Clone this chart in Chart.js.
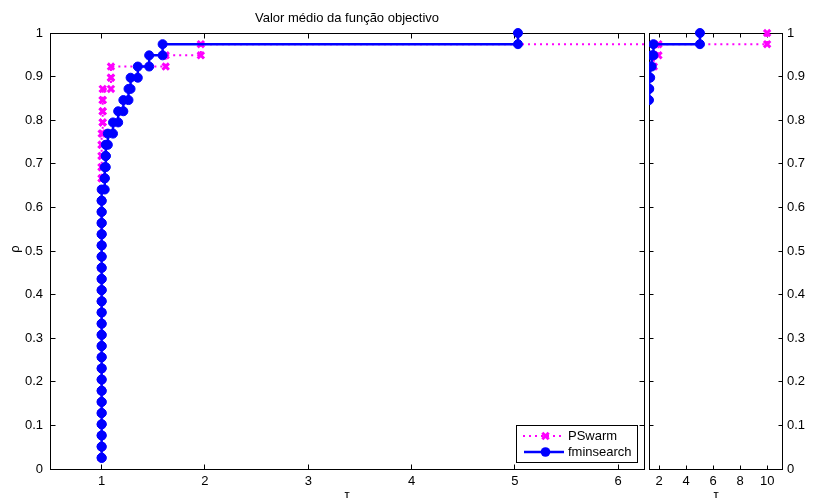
<!DOCTYPE html>
<html>
<head>
<meta charset="utf-8">
<script src="https://cdn.jsdelivr.net/npm/chart.js@4/dist/chart.umd.min.js"></script>
<style>
  body { margin: 0; background: #fff; }
  #wrap { position: relative; width: 821px; height: 498px; overflow: hidden; }
  #left { position: absolute; left: 0; top: 0; }
  #right { position: absolute; left: 646px; top: 0; }
</style>
</head>
<body>
<div id="wrap">
  <canvas id="left" width="646" height="498"></canvas>
  <canvas id="right" width="175" height="498"></canvas>
</div>
<script>
var chartTitle = 'Valor médio da função objectivo';
var solverNames = ['PSwarm', 'fminsearch'];

// sorted performance ratios, one per problem (39 problems)
var pswarmRatios = [1, 1, 1, 1, 1, 1, 1, 1, 1, 1,
                    1, 1, 1, 1, 1, 1, 1, 1, 1, 1,
                    1, 1, 1, 1, 1, 1, 1, 1, 1, 1,
                    1.01, 1.01, 1.01, 1.01, 1.09, 1.09, 1.62, 1.96, 10.0];
var fminRatios = [1, 1, 1, 1, 1, 1, 1, 1, 1, 1,
                  1, 1, 1, 1, 1, 1, 1, 1, 1, 1,
                  1, 1, 1, 1, 1, 1.03, 1.03, 1.04, 1.04, 1.06,
                  1.11, 1.16, 1.21, 1.26, 1.28, 1.35, 1.46, 1.59, 5.03];

var leftXTicks = [1, 2, 3, 4, 5, 6];
var rightXTicks = [2, 4, 6, 8, 10];
var yTicks = [0, 0.1, 0.2, 0.3, 0.4, 0.5, 0.6, 0.7, 0.8, 0.9, 1];

var FONT = '"Liberation Sans", Arial, Helvetica, sans-serif';
var MAGENTA = '#ff00ff';
var BLUE = '#0000ff';

// matlab style stairs: a marker on both corners of every step
function stairs(r) {
    var pts = [];
    for (var k = 0; k < r.length; k++) {
        var y = (k + 1) / r.length;
        pts.push({ x: r[k], y: y });
        if (k + 1 < r.length) pts.push({ x: r[k + 1], y: y });
    }
    return pts;
}

function makeDatasets() {
    return [
        {
            label: solverNames[0],
            data: stairs(pswarmRatios),
            borderColor: MAGENTA,
            borderWidth: 2,
            borderDash: [2, 4],
            pointStyle: 'crossRot',
            pointRadius: 4.5,
            pointBorderWidth: 3,
            pointBorderColor: MAGENTA,
            pointBackgroundColor: MAGENTA,
            order: 1,
            clip: { left: 0, right: 0, top: 8, bottom: 0 }
        },
        {
            label: solverNames[1],
            data: stairs(fminRatios),
            borderColor: BLUE,
            borderWidth: 2.5,
            pointStyle: 'circle',
            pointRadius: 4.5,
            pointBorderWidth: 1,
            pointBorderColor: BLUE,
            pointBackgroundColor: BLUE,
            order: 0,
            clip: { left: 0, right: 0, top: 8, bottom: 0 }
        }
    ];
}

function tickList(arr) {
    return function (scale) {
        scale.ticks = arr.map(function (v) { return { value: v }; });
    };
}

function fixSize(w, h) {
    return function (s) {
        if (w) s.width = w;
        if (h) s.height = h;
        s.paddingLeft = 0; s.paddingRight = 0;
        s.paddingTop = 0; s.paddingBottom = 0;
    };
}

// box round the axes with inward ticks on every side
function boxPlugin(tickLen) {
    return {
        id: 'box',
        beforeDatasetsDraw: function (chart) {
            var a = chart.chartArea, ctx = chart.ctx;
            var L = Math.floor(a.left) + 0.5, R = Math.floor(a.right) + 0.5;
            var T = Math.floor(a.top) + 0.5, B = Math.floor(a.bottom) + 0.5;
            ctx.save();
            ctx.strokeStyle = '#000';
            ctx.lineWidth = 1;
            ctx.strokeRect(L, T, R - L, B - T);
            ctx.beginPath();
            chart.scales.x.ticks.forEach(function (t) {
                var px = Math.floor(chart.scales.x.getPixelForValue(t.value)) + 0.5;
                ctx.moveTo(px, B); ctx.lineTo(px, B - tickLen);
                ctx.moveTo(px, T); ctx.lineTo(px, T + tickLen);
            });
            chart.scales.y.ticks.forEach(function (t) {
                var py = Math.floor(chart.scales.y.getPixelForValue(t.value)) + 0.5;
                ctx.moveTo(L, py); ctx.lineTo(L + tickLen, py);
                ctx.moveTo(R, py); ctx.lineTo(R - tickLen, py);
            });
            ctx.stroke();
            ctx.restore();
        }
    };
}

var textPlugin = {
    id: 'texts',
    afterDraw: function (chart) {
        var ctx = chart.ctx, a = chart.chartArea;
        ctx.save();
        ctx.fillStyle = '#000';
        ctx.font = '13px ' + FONT;
        ctx.textAlign = 'center';
        ctx.textBaseline = 'middle';
        ctx.fillText(chartTitle, (a.left + a.right) / 2, 18);
        ctx.textBaseline = 'alphabetic';
        ctx.fillText('τ', (a.left + a.right) / 2, 499);
        ctx.save();
        ctx.translate(15, 249);
        ctx.rotate(-Math.PI / 2);
        ctx.textBaseline = 'middle';
        ctx.fillText('ρ', 0, 0);
        ctx.restore();

        // legend
        var bx = 516.5, by = 425.5, bw = 121, bh = 37;
        ctx.fillStyle = '#fff';
        ctx.fillRect(bx, by, bw, bh);
        ctx.strokeStyle = '#000';
        ctx.lineWidth = 1;
        ctx.strokeRect(bx, by, bw, bh);

        var rows = [436, 452];
        // PSwarm
        ctx.strokeStyle = MAGENTA;
        ctx.lineWidth = 2;
        ctx.setLineDash([2, 4]);
        ctx.beginPath();
        ctx.moveTo(523, rows[0]); ctx.lineTo(564, rows[0]);
        ctx.stroke();
        ctx.setLineDash([]);
        ctx.lineWidth = 3;
        ctx.beginPath();
        var d = 3.2;
        ctx.moveTo(545.5 - d, rows[0] - d); ctx.lineTo(545.5 + d, rows[0] + d);
        ctx.moveTo(545.5 - d, rows[0] + d); ctx.lineTo(545.5 + d, rows[0] - d);
        ctx.stroke();
        // fminsearch
        ctx.strokeStyle = BLUE;
        ctx.lineWidth = 2.5;
        ctx.beginPath();
        ctx.moveTo(524, rows[1]); ctx.lineTo(564, rows[1]);
        ctx.stroke();
        ctx.fillStyle = BLUE;
        ctx.beginPath();
        ctx.arc(545.5, rows[1], 4.8, 0, Math.PI * 2);
        ctx.fill();

        ctx.fillStyle = '#000';
        ctx.textAlign = 'left';
        ctx.textBaseline = 'middle';
        ctx.fillText(solverNames[0], 568, rows[0]);
        ctx.fillText(solverNames[1], 568, rows[1]);
        ctx.restore();
    }
};

var rightTextPlugin = {
    id: 'rtexts',
    afterDraw: function (chart) {
        var ctx = chart.ctx;
        ctx.save();
        ctx.fillStyle = '#000';
        ctx.font = '13px ' + FONT;
        ctx.textAlign = 'center';
        ctx.fillText('τ', 70, 499);
        ctx.restore();
    }
};

var tickFont = { family: FONT, size: 13 };
function plain(v) { return String(v); }
var noGrid = { display: false, drawTicks: false };

new Chart(document.getElementById('left').getContext('2d'), {
    type: 'line',
    data: { datasets: makeDatasets() },
    options: {
        responsive: false,
        animation: false,
        devicePixelRatio: 1,
        layout: { autoPadding: false, padding: { top: 33, right: 2, left: 0, bottom: 0 } },
        plugins: { legend: { display: false }, tooltip: { enabled: false } },
        scales: {
            x: {
                type: 'linear', min: 0.5, max: 6.25,
                afterBuildTicks: tickList(leftXTicks),
                afterFit: fixSize(0, 29),
                grid: noGrid,
                border: { display: false },
                ticks: { font: tickFont, color: '#000', padding: 5, maxRotation: 0, autoSkip: false, callback: plain }
            },
            y: {
                type: 'linear', min: 0, max: 1,
                afterBuildTicks: tickList(yTicks),
                afterFit: fixSize(50, 0),
                grid: noGrid,
                border: { display: false },
                ticks: { font: tickFont, color: '#000', padding: 7, autoSkip: false, callback: plain }
            }
        }
    },
    plugins: [boxPlugin(5), textPlugin]
});

new Chart(document.getElementById('right').getContext('2d'), {
    type: 'line',
    data: { datasets: makeDatasets() },
    options: {
        responsive: false,
        animation: false,
        devicePixelRatio: 1,
        layout: { autoPadding: false, padding: { top: 33, right: 0, left: 3, bottom: 0 } },
        plugins: { legend: { display: false }, tooltip: { enabled: false } },
        scales: {
            x: {
                type: 'linear', min: 1.26, max: 11.1,
                afterBuildTicks: tickList(rightXTicks),
                afterFit: fixSize(0, 29),
                grid: noGrid,
                border: { display: false },
                ticks: { font: tickFont, color: '#000', padding: 5, maxRotation: 0, autoSkip: false, callback: plain }
            },
            y: {
                type: 'linear', position: 'right', min: 0, max: 1,
                afterBuildTicks: tickList(yTicks),
                afterFit: fixSize(39, 0),
                grid: noGrid,
                border: { display: false },
                ticks: { font: tickFont, color: '#000', padding: 5, autoSkip: false, callback: plain }
            }
        }
    },
    plugins: [boxPlugin(4), rightTextPlugin]
});
</script>
</body>
</html>
